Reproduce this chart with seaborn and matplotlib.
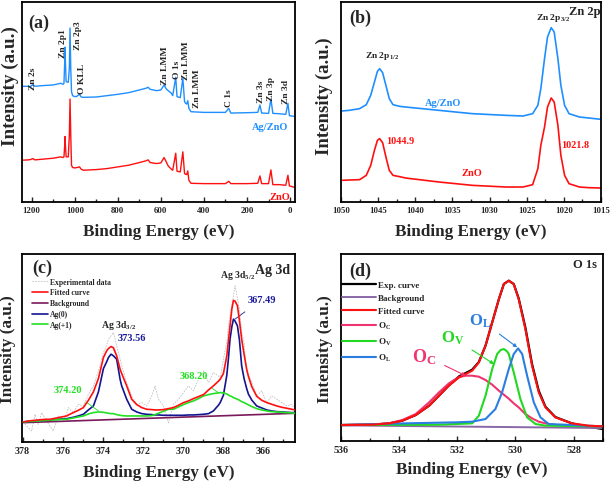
import matplotlib
matplotlib.use("Agg")
import matplotlib.pyplot as plt
import seaborn as sns
import pandas as pd
from matplotlib.ticker import MultipleLocator, NullLocator

# ---------------- data ----------------
# (a) survey spectra
survey_be = [1245, 1216, 1205, 1195, 1185, 1150, 1100, 1065, 1055, 1050, 1046.5, 1044.9, 1043.3,
             1040, 1030, 1025, 1021.8, 1018.5, 1015, 1010, 1000, 990, 978, 970, 960, 900, 850,
             800, 750, 700, 670, 659, 650, 620, 600, 585, 575, 566, 551, 545, 531, 525, 510,
             498, 490, 485, 480, 475, 470, 460, 400, 300, 285, 275, 200, 150, 140, 132, 100,
             89, 80, 50, 20, 10, 3, -10, -22]
survey_agzno = [346, 346, 345, 352, 346, 348, 350, 355, 352, 355, 420, 463, 420,
                360, 358, 400, 520, 400, 330, 318, 315, 316, 322, 314, 313, 314, 318,
                322, 327, 335, 340, 343, 337, 333, 335, 350, 338, 333, 325, 318, 373, 315, 312,
                370, 300, 295, 293, 303, 280, 270, 268, 268, 280, 266, 267, 268, 290, 266, 265,
                308, 265, 264, 262, 295, 258, 257, 256]
survey_zno = [125, 126, 127, 130, 126, 128, 131, 135, 133, 135, 170, 196, 170,
              135, 135, 200, 308, 200, 110, 103, 102, 103, 105, 98, 95, 97, 100,
              105, 110, 118, 123, 126, 118, 115, 117, 133, 120, 108, 98, 95, 146, 92, 90,
              150, 85, 83, 82, 93, 65, 56, 55, 55, 62, 55, 55, 56, 78, 55, 55,
              96, 52, 52, 50, 80, 48, 46, 43]
survey_peaks = ["Zn 2s", "Zn 2p1", "Zn 2p3", "O KLL", "Zn LMM", "O 1s", "Zn LMM", "Zn LMM",
                "C 1s", "Zn 3s", "Zn 3p", "Zn 3d"]
survey_peak_be = [1192, 1053, 987, 968, 581, 527, 481, 430, 283, 137, 87, 17]
survey_peak_h = [338, 433, 458, 326, 353, 371, 368, 283, 288, 298, 306, 296]

# (b) Zn 2p
zn_be = [1049.9, 1048.9, 1047.5, 1046.6, 1046.0, 1045.5, 1045.1, 1044.8, 1044.4, 1043.9, 1043.5,
         1043.0, 1042.1, 1041.3, 1036.8, 1032.3, 1027.8, 1025.5, 1024.2, 1023.5, 1023.1, 1022.6,
         1022.2, 1021.7, 1021.3, 1020.8, 1020.4, 1019.9, 1019.3, 1017.9, 1016.6, 1015.0]
zn_agzno = [273, 275, 280, 292, 320, 360, 392, 400, 388, 345, 310,
            292, 287, 285, 275, 265, 260, 258, 265, 290, 340, 430,
            495, 523, 510, 430, 350, 290, 265, 255, 252, 248]
zn_zno = [65, 66, 67, 80, 110, 155, 185, 190, 178, 130, 95,
          80, 76, 72, 60, 50, 45, 45, 52, 100, 170, 225,
          285, 312, 300, 230, 140, 80, 55, 45, 43, 42]

# (c) Ag 3d
ag_be = [377.96, 377.80, 377.55, 377.38, 377.22, 377.05, 376.80, 376.63, 376.47, 376.22, 375.97,
         375.80, 375.72, 375.47, 375.22, 374.97, 374.72, 374.47, 374.22, 373.97, 373.81, 373.72,
         373.59, 373.47, 373.31, 373.14, 373.06, 372.81, 372.56, 372.31, 372.06, 371.81, 371.56,
         371.40, 371.23, 370.98, 370.73, 370.48, 370.23, 369.98, 369.73, 369.48, 369.23, 368.98,
         368.73, 368.49, 368.24, 368.15, 367.99, 367.82, 367.74, 367.66, 367.57, 367.49, 367.41,
         367.29, 367.19, 367.08, 366.96, 366.83, 366.74, 366.57, 366.33, 366.08, 365.83, 365.58,
         365.33, 365.08, 364.83, 364.58, 364.42]
ag_exp = [60, 48, 33, 83, 53, 88, 63, 48, 33, 78, 68,
          85, 103, 88, 113, 108, 143, 168, 213, 268, 290, 308,
          318, 328, 288, 250, 228, 178, 138, 113, 118, 108, 138,
          168, 128, 108, 58, 113, 128, 148, 168, 153, 188, 213,
          178, 208, 198, 190, 248, 300, 348, 380, 410, 438, 468,
          430, 398, 330, 298, 208, 200, 178, 138, 153, 118, 138,
          128, 118, 108, 113, 98]
ag_fit = [60, 62, 64, 65, 66, 67, 68, 68, 70, 73, 76,
          78, 81, 88, 95, 103, 125, 150, 190, 253, 273, 280,
          286, 282, 258, 218, 205, 168, 128, 112, 103, 98, 97,
          96, 96, 97, 100, 103, 110, 118, 123, 130, 136, 142,
          156, 168, 182, 188, 205, 258, 303, 348, 398, 424, 422,
          408, 363, 308, 263, 218, 196, 165, 137, 125, 118, 113,
          108, 104, 101, 98, 96]
ag_0 = [60, 61, 62, 63, 64, 64, 65, 66, 67, 68, 69,
        70, 71, 74, 78, 83, 96, 108, 150, 220, 240, 253,
        263, 258, 248, 188, 168, 128, 98, 90, 85, 83, 82,
        81, 81, 80, 80, 80, 80, 80, 81, 81, 82, 83,
        85, 93, 110, 118, 140, 200, 250, 308, 345, 368, 362,
        348, 305, 228, 190, 160, 143, 125, 108, 102, 96, 93,
        91, 90, 89, 88, 88]
ag_1 = [60, 61, 62, 63, 63, 64, 65, 66, 66, 67, 68,
        68, 69, 72, 75, 78, 84, 88, 90, 89, 87, 86,
        85, 85, 82, 80, 79, 78, 78, 78, 78, 78, 79,
        82, 86, 92, 98, 98, 105, 112, 118, 123, 130, 138,
        142, 145, 147, 148, 147, 144, 141, 138, 136, 133, 131,
        128, 125, 121, 118, 114, 111, 106, 100, 96, 93, 91,
        90, 89, 88, 87, 86]
ag_bg = [58, 86]
ag_bg_be = [377.96, 364.42]

# (d) O 1s
o_be = [535.97, 534.91, 534.34, 533.89, 533.43, 532.97, 532.63, 532.29, 531.94, 531.71, 531.49,
        531.26, 531.03, 530.80, 530.57, 530.40, 530.23, 530.06, 529.89, 529.66, 529.43, 529.20,
        528.97, 528.63, 528.06, 527.49, 527.0]
o_exp = [47, 48, 52, 60, 77, 105, 135, 166, 193, 203, 213,
         236, 285, 355, 425, 470, 480, 470, 427, 340, 230, 150,
         102, 71, 52, 42, 35]
o_fit = [47, 48, 52, 60, 77, 105, 135, 165, 190, 200, 210,
         235, 285, 355, 425, 470, 480, 470, 425, 335, 225, 145,
         100, 70, 52, 45, 43]
o_c = [47, 49, 52, 62, 80, 115, 145, 172, 191, 195, 195,
       192, 182, 168, 150, 138, 126, 112, 100, 80, 67, 57,
       52, 47, 45, 44, 43]
o_v_be = [535.97, 532.63, 531.49, 531.26, 531.03, 530.80, 530.63, 530.51, 530.40, 530.29, 530.23,
          530.06, 529.83, 529.60, 529.31, 528.97, 527.0]
o_v = [47, 48, 52, 75, 135, 215, 260, 272, 275, 268, 260,
       205, 125, 70, 50, 45, 43]
o_l_be = [535.97, 533.77, 532.06, 531.49, 531.03, 530.69, 530.46, 530.23, 530.06, 529.91, 529.77,
          529.60, 529.37, 529.14, 528.86, 527.0]
o_l = [47, 52, 55, 57, 65, 95, 145, 215, 260, 277, 260,
       195, 115, 70, 50, 43]
o_bg_be = [536.0, 527.0]
o_bg = [46, 38]

# ---------------- style ----------------
sns.set_style("ticks")
plt.rcParams["font.family"] = ["Liberation Serif", "DejaVu Serif"]
plt.rcParams["font.weight"] = "bold"
plt.rcParams["axes.labelweight"] = "bold"
plt.rcParams["mathtext.fontset"] = "custom"
plt.rcParams["mathtext.rm"] = "Liberation Serif:bold"
plt.rcParams["mathtext.it"] = "Liberation Serif:bold:italic"
plt.rcParams["mathtext.bf"] = "Liberation Serif:bold"

BLUE = "#1f8fff"
RED = "#ff1010"

fig = plt.figure(figsize=(6.14, 4.85), dpi=100)
axA = fig.add_axes([0.0358, 0.5814, 0.4447, 0.4124])
axB = fig.add_axes([0.5554, 0.5814, 0.4234, 0.4124])
axC = fig.add_axes([0.0358, 0.0866, 0.4447, 0.3876])
axD = fig.add_axes([0.5554, 0.0893, 0.4262, 0.3849])


def line(ax, x, y, color, lw, label=None, ls="-", z=2):
    sns.lineplot(x=x, y=y, ax=ax, color=color, lw=lw, label=label, linestyle=ls,
                 errorbar=None, legend=False, zorder=z)


def style(ax, xlim, ylim, major, minor, tick_fs, ylab_fs, xlab_y, ylab_x, ylab_y):
    ax.set_xlim(*xlim)
    ax.set_ylim(*ylim)
    ax.xaxis.set_major_locator(MultipleLocator(major))
    ax.xaxis.set_minor_locator(MultipleLocator(minor))
    ax.yaxis.set_major_locator(NullLocator())
    ax.yaxis.set_minor_locator(NullLocator())
    ax.tick_params(axis="x", which="both", direction="in", width=1.0, pad=3,
                   labelsize=tick_fs, top=False)
    ax.tick_params(axis="x", which="major", length=3.5)
    ax.tick_params(axis="x", which="minor", length=2)
    for t in ax.get_xticklabels():
        t.set_fontweight("bold")
    for s in ax.spines.values():
        s.set_visible(True)
        s.set_linewidth(1.3)
        s.set_color("black")
    ax.set_xlabel("Binding Energy (eV)", fontsize=12.3, fontweight="bold")
    ax.set_ylabel("Intensity (a.u.)", fontsize=ylab_fs, fontweight="bold")
    ax.xaxis.set_label_coords(0.5, xlab_y)
    ax.yaxis.set_label_coords(ylab_x, ylab_y)


# ---------------- (a) ----------------
line(axA, survey_be, survey_agzno, BLUE, 1.0)
line(axA, survey_be, survey_zno, RED, 1.0)
for name, be, h in zip(survey_peaks, survey_peak_be, survey_peak_h):
    axA.text(be, h, name, rotation=90, ha="center", va="bottom", fontsize=6.8)
axA.text(94, 226, "Ag/ZnO", color=BLUE, ha="center", va="center", fontsize=7.5)
axA.text(48, 18, "ZnO", color=RED, ha="center", va="center", fontsize=7.5)
axA.text(0.062, 0.9, "(a)", transform=axA.transAxes, ha="center", va="center", fontsize=13)
style(axA, (1245, -23), (0, 598), 200, 100, 6.3, 13.8, -0.105, -0.012, 0.585)

# ---------------- (b) ----------------
line(axB, zn_be, zn_agzno, BLUE, 1.2)
line(axB, zn_be, zn_zno, RED, 1.2)
axB.text(1044.4, 440, r"Zn 2p$_{1/2}$", ha="center", va="center", fontsize=6.8)
axB.text(1021.4, 555, r"Zn 2p$_{3/2}$", ha="center", va="center", fontsize=6.8)
axB.text(1017.2, 572, "Zn 2p", ha="center", va="center", fontsize=9)
axB.text(1036.3, 300, "Ag/ZnO", color=BLUE, ha="center", va="center", fontsize=7.5)
axB.text(1032.4, 88, "ZnO", color=RED, ha="center", va="center", fontsize=7.5)
axB.text(1043.9, 185, "1044.9", color=RED, ha="left", va="center", fontsize=7.3)
axB.text(1020.3, 173, "1021.8", color=RED, ha="left", va="center", fontsize=7.3)
axB.text(0.073, 0.925, "(b)", transform=axB.transAxes, ha="center", va="center", fontsize=13)
style(axB, (1050, 1015), (0, 600), 5, 2.5, 6.3, 13.5, -0.105, -0.031, 0.535)

# ---------------- (c) ----------------
line(axC, ag_be, ag_exp, "#b8b8b8", 0.5, "Experimental data", ls=(0, (2.5, 1.5)), z=1)
line(axC, ag_be, ag_fit, RED, 1.2, "Fitted curve", z=4)
line(axC, ag_bg_be, ag_bg, "#7a1a5a", 1.2, "Background", z=3)
line(axC, ag_be, ag_0, "#14148f", 1.2, "Ag(0)", z=3)
line(axC, ag_be, ag_1, "#22e022", 1.2, "Ag(+1)", z=3)
axC.text(365.55, 518, "Ag 3d", ha="center", va="center", fontsize=10)
axC.text(367.29, 503, r"Ag 3d$_{5/2}$", ha="center", va="center", fontsize=7)
axC.text(373.23, 353, r"Ag 3d$_{3/2}$", ha="center", va="center", fontsize=7)
axC.annotate("373.56", xy=(373.45, 275), xytext=(372.57, 313), color="#1a1a9a", fontsize=7.5,
             ha="center", va="center",
             arrowprops=dict(arrowstyle="-", color="#1a1a9a", lw=0.6, shrinkA=6, shrinkB=0))
axC.annotate("367.49", xy=(367.41, 368), xytext=(366.06, 428), color="#1a1a9a", fontsize=7.5,
             ha="center", va="center",
             arrowprops=dict(arrowstyle="-", color="#1a1a9a", lw=0.6, shrinkA=6, shrinkB=0))
axC.annotate("374.20", xy=(374.22, 93), xytext=(375.72, 158), color="#22e022", fontsize=7.5,
             ha="center", va="center",
             arrowprops=dict(arrowstyle="-", color="#22e022", lw=0.6, shrinkA=6, shrinkB=0))
axC.annotate("368.20", xy=(368.24, 148), xytext=(369.48, 198), color="#22e022", fontsize=7.5,
             ha="center", va="center",
             arrowprops=dict(arrowstyle="-", color="#22e022", lw=0.6, shrinkA=6, shrinkB=0))
axC.text(0.073, 0.93, "(c)", transform=axC.transAxes, ha="center", va="center", fontsize=13)
hC, lC = axC.get_legend_handles_labels()
legC = axC.legend(hC, lC, loc="upper left", bbox_to_anchor=(0.035, 0.875), frameon=False,
                  fontsize=5.5, handlelength=2.1, handletextpad=0.3, labelspacing=0.38,
                  borderpad=0, borderaxespad=0)
for t in legC.get_texts():
    t.set_fontweight("bold")
style(axC, (378.03, 364.42), (0, 563), 2, 1, 7.2, 12.4, -0.117, -0.022, 0.5)

# ---------------- (d) ----------------
OC = "#f0346f"
OV = "#22d822"
OL = "#2a7de1"
line(axD, o_be, o_exp, "black", 1.6, "Exp. curve", z=2)
line(axD, o_bg_be, o_bg, "#8a68a8", 1.4, "Background", z=2)
line(axD, o_be, o_fit, RED, 1.5, "Fitted curve", z=3)
line(axD, o_be, o_c, OC, 1.5, r"O$_\mathrm{C}$", z=2)
line(axD, o_v_be, o_v, OV, 1.5, r"O$_\mathrm{V}$", z=2)
line(axD, o_l_be, o_l, OL, 1.5, r"O$_\mathrm{L}$", z=2)
axD.text(527.6, 530, "O 1s", ha="center", va="center", fontsize=9)
axD.annotate(r"O$_\mathrm{C}$", xy=(531.71, 195), xytext=(533.14, 255), color=OC, fontsize=13,
             ha="center", va="center",
             arrowprops=dict(arrowstyle="-|>", color=OC, lw=0.8, mutation_scale=5, shrinkA=4, shrinkB=0))
axD.annotate(r"O$_\mathrm{V}$", xy=(530.74, 230), xytext=(532.17, 310), color=OV, fontsize=12,
             ha="center", va="center",
             arrowprops=dict(arrowstyle="-|>", color=OV, lw=0.8, mutation_scale=5, shrinkA=4, shrinkB=0))
axD.annotate(r"O$_\mathrm{L}$", xy=(529.94, 280), xytext=(531.2, 362), color=OL, fontsize=12,
             ha="center", va="center",
             arrowprops=dict(arrowstyle="-|>", color=OL, lw=0.8, mutation_scale=5, shrinkA=4, shrinkB=0))
axD.text(0.073, 0.91, "(d)", transform=axD.transAxes, ha="center", va="center", fontsize=13)
hD, lD = axD.get_legend_handles_labels()
legD = axD.legend(hD, lD, loc="upper left", bbox_to_anchor=(0.005, 0.858), frameon=False,
                  fontsize=6.5, handlelength=3.7, handletextpad=0.2, labelspacing=0.53,
                  borderpad=0, borderaxespad=0)
for t in legD.get_texts():
    t.set_fontweight("bold")
style(axD, (536, 527), (0, 560), 2, 1, 7.2, 12.4, -0.109, -0.031, 0.497)

fig.savefig("out.png", dpi=100)
